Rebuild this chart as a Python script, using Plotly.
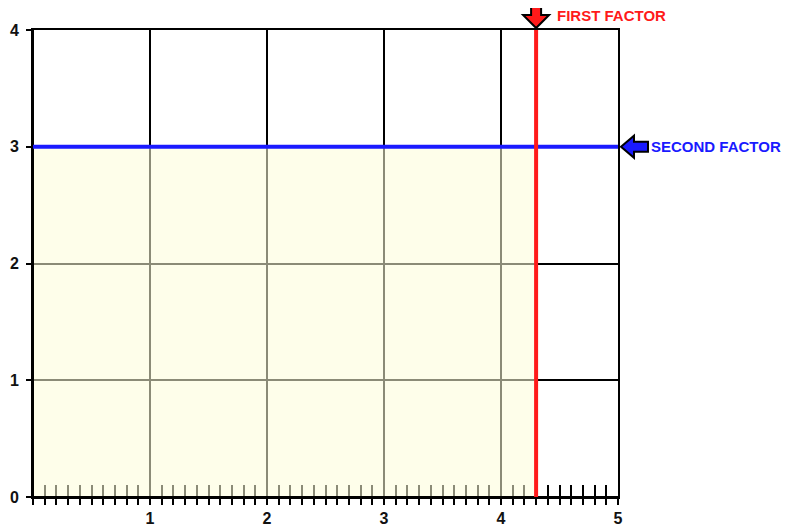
import plotly.graph_objects as go

# ---- data ----
first_factor = 4.3      # vertical red line value (x)
second_factor = 3.0     # horizontal blue line value (y)
x_range = [0, 5]
y_range = [0, 4]
x_tick_vals = [1, 2, 3, 4, 5]
x_tick_text = ["1", "2", "3", "4", "5"]
y_tick_vals = [0, 1, 2, 3, 4]
y_tick_text = ["0", "1", "2", "3", "4"]
minor_step = 0.1
first_label = "FIRST FACTOR"
second_label = "SECOND FACTOR"

# page body has an 8px margin, so the figure is sized to fit the 794x527 window
W, H = 786, 519
ML, MR, MT, MB = 25, 176, 22, 30
PW, PH = W - ML - MR, H - MT - MB

RED = "#ff1a1a"
BLUE = "#1a1aff"
TICKFONT = dict(family="Liberation Sans, Arial, sans-serif", size=16, color="#111111",
                weight="bold")


def arrow_path(px0, py0, pts):
    """Path in paper coords from a tip (paper) and pixel offsets (dx right, dy up)."""
    s = []
    for i, (dx, dy) in enumerate(pts):
        x = px0 + dx / PW
        y = py0 + dy / PH
        s.append(("M" if i == 0 else "L") + f"{x:.5f},{y:.5f}")
    return " ".join(s) + " Z"


fig = go.Figure()

# invisible traces so both x axes are drawn
fig.add_trace(go.Scatter(x=[first_factor], y=[second_factor], xaxis="x2", yaxis="y",
                         mode="markers", marker=dict(opacity=0), hoverinfo="skip",
                         showlegend=False))
fig.add_trace(go.Scatter(x=[first_factor], y=[second_factor], mode="markers",
                         marker=dict(opacity=0), hoverinfo="skip", showlegend=False))

shapes = []
# shaded region (semi-transparent, above grid & inside ticks)
shapes.append(dict(type="rect", xref="x", yref="y", x0=x_range[0], x1=first_factor,
                   y0=y_range[0], y1=second_factor, layer="above",
                   fillcolor="rgba(253,253,216,0.55)", line=dict(width=1.5, color="rgba(0,0,0,0.8)")))
# redraw left and bottom axis lines on top
shapes.append(dict(type="line", xref="x", yref="y", x0=x_range[0], x1=x_range[0],
                   y0=y_range[0], y1=y_range[1], layer="above", line=dict(color="black", width=2)))
shapes.append(dict(type="line", xref="x", yref="y", x0=x_range[0], x1=x_range[1],
                   y0=y_range[0], y1=y_range[0], layer="above", line=dict(color="black", width=2)))
# blue horizontal line
shapes.append(dict(type="line", xref="x", yref="y", x0=x_range[0], x1=x_range[1],
                   y0=second_factor, y1=second_factor, layer="above", line=dict(color=BLUE, width=4)))
# red vertical line
shapes.append(dict(type="line", xref="x", yref="y", x0=first_factor, x1=first_factor,
                   y0=y_range[0], y1=y_range[1], layer="above", line=dict(color=RED, width=4)))

# red down arrow above the plot
rx = (first_factor - x_range[0]) / (x_range[1] - x_range[0])
shapes.append(dict(type="path", xref="paper", yref="paper", layer="above",
                   path=arrow_path(rx, 1 + 2 / PH,
                                   [(0, 0), (-13, 13), (-5, 13), (-5, 25), (5, 25), (5, 13), (13, 13)]),
                   fillcolor=RED, line=dict(color="black", width=2)))
# blue left arrow to the right of the plot
by = (second_factor - y_range[0]) / (y_range[1] - y_range[0])
shapes.append(dict(type="path", xref="paper", yref="paper", layer="above",
                   path=arrow_path(1 + 3 / PW, by,
                                   [(0, 0), (13, 11), (13, 5), (27, 5), (27, -5), (13, -5), (13, -11)]),
                   fillcolor=BLUE, line=dict(color="black", width=2)))

annotations = [
    dict(text=f"<b>{first_label}</b>", xref="x", yref="paper", x=first_factor, y=1,
         xanchor="left", yanchor="middle", xshift=19, yshift=15, showarrow=False,
         font=dict(family="Liberation Sans, Arial, sans-serif", size=15, color=RED)),
    dict(text=f"<b>{second_label}</b>", xref="paper", yref="y", x=1, y=second_factor,
         xanchor="left", yanchor="middle", xshift=31, yshift=0, showarrow=False,
         font=dict(family="Liberation Sans, Arial, sans-serif", size=15, color=BLUE)),
]

fig.update_layout(
    width=W, height=H,
    margin=dict(l=ML, r=MR, t=MT, b=MB, autoexpand=False),
    paper_bgcolor="white", plot_bgcolor="white",
    showlegend=False,
    shapes=shapes,
    annotations=annotations,
    xaxis=dict(range=x_range, tickmode="array", tickvals=x_tick_vals, ticktext=x_tick_text,
               ticks="outside", ticklen=6, tickwidth=2, tickcolor="black",
               minor=dict(tickmode="linear", tick0=0, dtick=minor_step, ticks="outside",
                          ticklen=6, tickwidth=2, tickcolor="black", showgrid=False),
               showgrid=True, gridcolor="black", gridwidth=2,
               showline=True, linecolor="black", linewidth=2, mirror=True,
               zeroline=False, tickfont=TICKFONT, ticklabelstandoff=0,
               automargin=False, fixedrange=True),
    xaxis2=dict(range=x_range, overlaying="x", anchor="y", side="bottom",
                tickmode="array", tickvals=x_tick_vals, ticks="inside", ticklen=12,
                tickwidth=2, tickcolor="black", showticklabels=False,
                minor=dict(tickmode="linear", tick0=0, dtick=minor_step, ticks="inside",
                           ticklen=12, tickwidth=2, tickcolor="black", showgrid=False),
                showgrid=False, zeroline=False, showline=False, automargin=False,
                fixedrange=True),
    yaxis=dict(range=y_range, tickmode="array", tickvals=y_tick_vals, ticktext=y_tick_text,
               ticks="outside", ticklen=5, tickwidth=2, tickcolor="black",
               showgrid=True, gridcolor="black", gridwidth=2,
               showline=True, linecolor="black", linewidth=2, mirror=True,
               zeroline=False, tickfont=TICKFONT, ticklabelstandoff=4,
               automargin=False, fixedrange=True),
)

fig.write_html("out.html", config={"displayModeBar": False})
